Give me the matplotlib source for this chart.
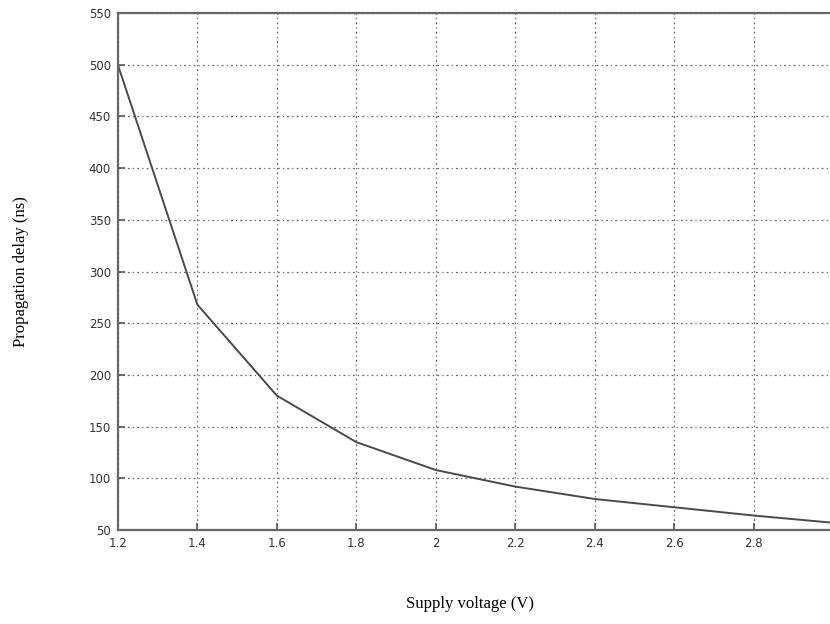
import matplotlib
matplotlib.use("Agg")
import matplotlib.pyplot as plt

# Supply voltage sweep and measured propagation delay
voltage = [1.2, 1.4, 1.6, 1.8, 2.0, 2.2, 2.4, 2.6, 2.8, 3.0]
delay_ns = [500, 268, 180, 135, 108, 92, 80, 72, 64, 57]

x_ticks = [1.2, 1.4, 1.6, 1.8, 2.0, 2.2, 2.4, 2.6, 2.8, 3.0]
x_tick_labels = ["1.2", "1.4", "1.6", "1.8", "2", "2.2", "2.4", "2.6", "2.8", "3"]
y_ticks = [50, 100, 150, 200, 250, 300, 350, 400, 450, 500, 550]

fig = plt.figure(figsize=(8.30, 6.24), dpi=100)
ax = fig.add_axes([0.142, 0.1506, 0.862, 0.8285])

ax.plot(voltage, delay_ns, color="#4a4a4a", linewidth=1.4)

ax.set_xlim(1.2, 3.0)
ax.set_ylim(50, 550)
ax.set_xticks(x_ticks)
ax.set_xticklabels(x_tick_labels)
ax.set_yticks(y_ticks)

ax.grid(True, color="#666666", linestyle=(0, (1.5, 2.5, 1, 2.5)), linewidth=0.9)
ax.tick_params(direction="in", length=5, width=1.2, color="#555555",
               labelsize=8.5, labelcolor="#333333", pad=5)
for s in ax.spines.values():
    s.set_color("#666666")
    s.set_linewidth(1.6)

serif = ["Liberation Serif", "DejaVu Serif"]
fig.text(0.566, 0.032, "Supply voltage (V)", family=serif, fontsize=12,
         ha="center", va="center")
fig.text(0.025, 0.565, "Propagation delay (ns)", family=serif, fontsize=12,
         ha="center", va="center", rotation=90)

fig.savefig("out.png", dpi=100)
